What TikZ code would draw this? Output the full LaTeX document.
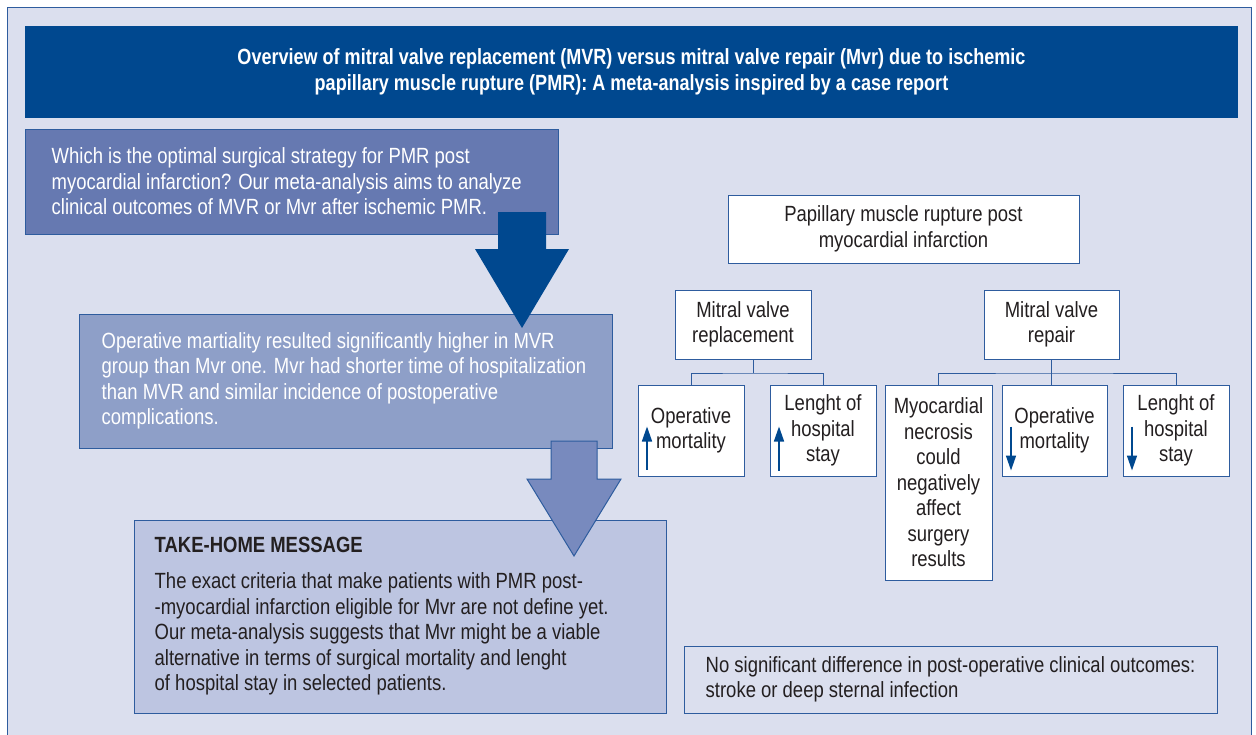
\documentclass[tikz,border=0pt]{standalone}
\usepackage{fontspec}
\setmainfont{Liberation Sans}[FakeStretch=0.84]
\newfontfamily\titlefont{Liberation Sans}[FakeStretch=0.82]
\usetikzlibrary{arrows.meta}
\usetikzlibrary{calc}
\usetikzlibrary{positioning}
\definecolor{bgcol}{HTML}{DBDFEE}
\definecolor{linecol}{HTML}{2E5C9E}
\definecolor{titlecol}{HTML}{00488F}
\definecolor{qcol}{HTML}{6679B1}
\definecolor{rescol}{HTML}{8E9FC8}
\definecolor{takecol}{HTML}{BDC5E1}
\definecolor{arrowcol}{HTML}{788ABE}
\definecolor{ink}{HTML}{231F20}
\tikzset{x = 1pt, y = -1pt,
  panel/.style = {rectangle, draw = linecol, line width = 1pt, inner sep = 0pt},
  leaf/.style = {panel, fill = white, text = ink, align = center,
    font = \fontsize{22}{25.5}\selectfont},
  lefttext/.style = {inner sep = 0pt, align = left, anchor = west,
    font = \fontsize{22}{25.5}\selectfont},
  trend/.style = {-{Triangle[length = 15pt, width = 10pt]}, draw = titlecol,
    line width = 1.5pt}}

\begin{document}
\begin{tikzpicture}
  \useasboundingbox (0,0) rectangle (1256,734);
  % frame
  \draw [draw = linecol, fill = bgcol, line width = 1pt] (7,7) rectangle (1251,760);
  \node [rectangle, fill = titlecol, text = white, align = center,
    minimum width = 1213, minimum height = 92,
    font = \titlefont\bfseries\fontsize{22}{26}\selectfont] (title) at (631.5,72)
    {Overview of mitral valve replacement (MVR) versus mitral valve repair (Mvr) due to ischemic\\
     papillary muscle rupture (PMR): A meta-analysis inspired by a case report};
  % left column
  \node [panel, fill = qcol, minimum width = 533, minimum height = 105] (question) at (291.5,181.5) {};
  \node [lefttext, text = white, right = 27pt of question.west] (questiontext)
    {Which is the optimal surgical strategy for PMR post\\
     myocardial infarction? Our meta-analysis aims to analyze\\
     clinical outcomes of MVR or Mvr after ischemic PMR.};
  \node [panel, fill = rescol, minimum width = 533, minimum height = 134] (result) at (345.5,381) {};
  \node [lefttext, text = white, right = 23pt of result.west] (resulttext)
    {Operative martiality resulted significantly higher in MVR\\
     group than Mvr one. Mvr had shorter time of hospitalization\\
     than MVR and similar incidence of postoperative\\
     complications.};
  \node [panel, fill = takecol, minimum width = 532, minimum height = 193] (message) at (400,616.5) {};
  \node [lefttext, text = ink, right = 21pt of message.west] (messagetext)
    {\textbf{TAKE-HOME MESSAGE}\\[10.5pt]
     The exact criteria that make patients with PMR post-\\
     -myocardial infarction eligible for Mvr are not define yet.\\
     Our meta-analysis suggests that Mvr might be a viable\\
     alternative in terms of surgical mortality and lenght\\
     of hospital stay in selected patients.};
  % block arrows
  \fill [titlecol] (498,212) -- (546,212) -- (546,249) -- (569,249) -- (522,328)
    -- (475,249) -- (498,249) -- cycle;
  \filldraw [fill = arrowcol, draw = linecol, line width = 1pt] (551,441) -- (597,441)
    -- (597,479) -- (621,479) -- (574,556) -- (527,479) -- (551,479) -- cycle;
  % right column
  \node [leaf, minimum width = 351, minimum height = 68] (pmr) at (903.5,229)
    {Papillary muscle rupture post\\ myocardial infarction};
  \node [leaf, minimum width = 136, minimum height = 69] (mvr) at (743,324.5)
    {Mitral valve\\ replacement};
  \node [leaf, minimum width = 135, minimum height = 69] (rep) at (1051.5,324.5)
    {Mitral valve\\ repair};
  \node [leaf, minimum width = 106, minimum height = 91] (om1) at (691,430.5)
    {Operative\\ mortality};
  \node [leaf, minimum width = 106, minimum height = 91, right = 25pt of om1] (ls1)
    {Lenght of\\ hospital\\ stay};
  \node [leaf, minimum width = 107, minimum height = 195] (myo) at (938.5,482.5)
    {Myocardial\\ necrosis\\ could\\ negatively\\ affect\\ surgery\\ results};
  \node [leaf, minimum width = 105, minimum height = 91] (om2) at (1054.5,430.5)
    {Operative\\ mortality};
  \node [leaf, minimum width = 106, minimum height = 91, right = 15pt of om2] (ls2)
    {Lenght of\\ hospital\\ stay};
  \node [panel, minimum width = 533, minimum height = 67] (note) at (950.5,679.5) {};
  \node [lefttext, text = ink, right = 22pt of note.west] (notetext)
    {No significant difference in post-operative clinical outcomes:\\
     stroke or deep sternal infection};
  % connectors
  \coordinate (mvrbar) at (753,373);
  \coordinate (repbar) at (rep.south |- mvrbar);
  \draw [draw = linecol, line width = 1pt] (om1.north) |- (mvrbar) -| (ls1.north);
  \draw [draw = linecol, line width = 1pt] (mvrbar) -- (mvrbar |- mvr.south);
  \draw [draw = linecol, line width = 1pt] (myo.north) |- (repbar) -| (ls2.north);
  \draw [draw = linecol, line width = 1pt] (rep.south) -- (rep.south |- om2.north);
  \foreach \b/\ya/\yb in {om1/39/-4, ls1/40/-4, om2/-4/40, ls2/-4/40}
    \draw [trend] ($(\b.west)+(9.5,\ya)$) -- ($(\b.west)+(9.5,\yb)$);
\end{tikzpicture}
\end{document}
